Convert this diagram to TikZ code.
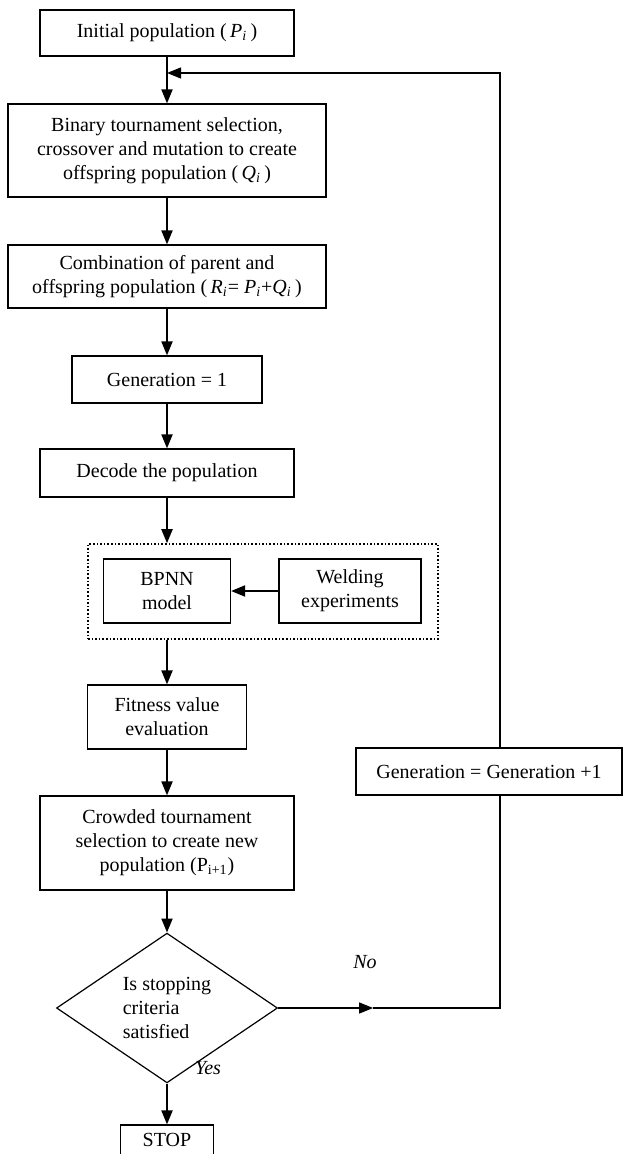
\documentclass[tikz,border=0pt]{standalone}
\usepackage{fontspec}
\setmainfont{Liberation Serif}
\usetikzlibrary{shapes.geometric,arrows.meta}
\newcommand\vsub[2]{\textit{#1}\textsubscript{\textit{#2}}}

\begin{document}
\begin{tikzpicture}[x=0.5pt,y=-0.5pt,
    stepbox/.style={draw, line width=0.6pt, align=center, inner sep=0pt},
    flow/.style={line width=1pt, -{Triangle[length=7pt,width=5.5pt]}},
    back/.style={line width=0.7pt}]
    \useasboundingbox (0,0) rectangle (623,1154);
    \clip (0,0) rectangle (623,1154);

    \node[stepbox, minimum width=127pt, minimum height=23pt] (init) at (167,33) {Initial population (\,\vsub{P}{i}\,)};
    \node[stepbox, minimum width=159pt, minimum height=46.5pt] (cross) at (167,150.5) {Binary tournament selection,\\crossover and mutation to create\\offspring population (\,\vsub{Q}{i}\,)};
    \node[stepbox, minimum width=159pt, minimum height=31.5pt] (comb) at (167,276.5) {Combination of parent and\\offspring population (\,\vsub{R}{i}=\ \vsub{P}{i}+\vsub{Q}{i}\,)};
    \node[stepbox, minimum width=95pt, minimum height=23.5pt] (gen) at (167,379.5) {Generation = 1};
    \node[stepbox, minimum width=127pt, minimum height=24pt] (decode) at (167,473) {Decode the population};

    \node[draw, densely dotted, line width=0.8pt, minimum width=175pt, minimum height=47.5pt] (frame) at (263,591.5) {};
    \node[stepbox, minimum width=63.5pt, minimum height=32pt] (bpnn) at (167,591) {BPNN\\model};
    \node[stepbox, minimum width=71pt, minimum height=32pt] (weld) at (350,591) {Welding\\experiments};

    \node[stepbox, minimum width=79.5pt, minimum height=32pt] (fit) at (167,717) {Fitness value\\evaluation};
    \node[stepbox, minimum width=127pt, minimum height=47pt] (crowd) at (167,843) {Crowded tournament\\selection to create new\\population (P\textsubscript{i+1})};
    \node[diamond, draw, line width=0.6pt, minimum width=110.5pt, minimum height=69pt, inner sep=0pt, align=left] (check) at (167,1008) {Is stopping\\criteria\\satisfied};
    \node[stepbox, minimum width=46.5pt, minimum height=15pt] (stop) at (167,1140) {STOP};
    \node[stepbox, minimum width=133pt, minimum height=23.5pt] (next) at (489,771.5) {Generation = Generation +1};

    \node[font=\itshape] (no) at (365,962) {No};
    \node[font=\itshape] (yes) at (208,1068) {Yes};

    \draw[flow] (init) -- (cross);
    \draw[flow] (cross) -- (comb);
    \draw[flow] (comb) -- (gen);
    \draw[flow] (gen) -- (decode);
    \draw[flow] (decode) -- (decode |- frame.north);
    \draw[flow] (weld) -- (bpnn);
    \draw[flow] (fit |- frame.south) -- (fit);
    \draw[flow] (fit) -- (crowd);
    \draw[flow] (crowd) -- (check);
    \draw[flow] (check) -- (stop);

    \coordinate (rx) at (500,0);
    \coordinate (join) at (167,73);
    \path (check.east) ++(95,0) coordinate (noarr);
    \draw[flow, back] (check.east) -- (noarr);
    \draw[back] (noarr) -| (next.south -| rx);
    \draw[flow, back] (next.north -| rx) |- (join);
\end{tikzpicture}
\end{document}
